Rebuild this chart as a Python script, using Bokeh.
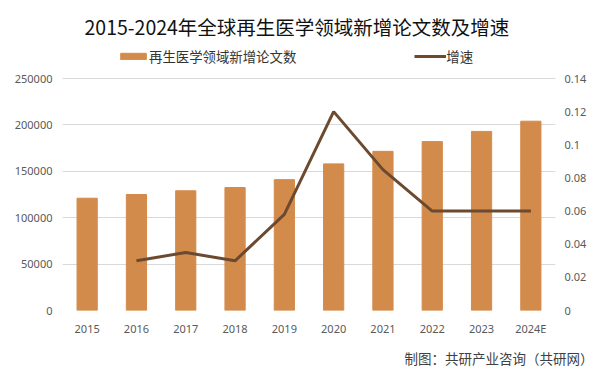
from bokeh.plotting import figure
from bokeh.models import (Range1d, LinearAxis, FixedTicker, NumeralTickFormatter,
                          BasicTickFormatter, Legend, LegendItem, Title,
                          ColumnDataSource)
from bokeh.embed import file_html
from bokeh.resources import INLINE

years = ["2015", "2016", "2017", "2018", "2019", "2020", "2021", "2022", "2023", "2024E"]
papers = [121000, 125000, 129000, 132500, 141000, 158000, 171500, 182000, 193000, 204000]
growth_years = ["2016", "2017", "2018", "2019", "2020", "2021", "2022", "2023", "2024E"]
growth = [0.030, 0.035, 0.030, 0.058, 0.120, 0.085, 0.060, 0.060, 0.060]
left_ticks = [0, 50000, 100000, 150000, 200000, 250000]
right_ticks = [0, 0.02, 0.04, 0.06, 0.08, 0.10, 0.12, 0.14]
title_text = "2015-2024年全球再生医学领域新增论文数及增速"
bar_label = "再生医学领域新增论文数"
line_label = "增速"
source_text = "制图：共研产业咨询（共研网）"

CJK = "Noto Sans CJK SC"
BAR = "#d38b4c"
LINE = "#6b4a2f"
TXT = "#595959"

# frame runs from canvas y=42 to y=310; 250000 sits at y=78 as in the reference
FRAME_H = 268.0
AXIS_H = 232.0
left_top = 250000 * FRAME_H / AXIS_H
right_top = 0.14 * FRAME_H / AXIS_H

p = figure(width=602, height=375, x_range=years, y_range=Range1d(0, left_top),
           output_backend="svg", toolbar_location=None,
           min_border_left=62, min_border_right=47, min_border_top=42, min_border_bottom=65)
p.outline_line_color = None
p.background_fill_color = "white"
p.border_fill_color = "white"
p.extra_y_ranges = {"g": Range1d(0, right_top)}

src_b = ColumnDataSource(dict(x=years, y=papers))
src_l = ColumnDataSource(dict(x=growth_years, y=growth))
bars = p.vbar(x="x", top="y", width=0.41, source=src_b, color=BAR)
line = p.line(x="x", y="y", source=src_l, y_range_name="g", line_color=LINE, line_width=3)

# axes
p.yaxis.ticker = FixedTicker(ticks=left_ticks)
p.yaxis.formatter = BasicTickFormatter(use_scientific=False)
for ax in [p.xaxis[0], p.yaxis[0]]:
    ax.axis_line_color = None
    ax.major_tick_line_color = None
    ax.minor_tick_line_color = None
    ax.major_tick_out = 0
    ax.major_tick_in = 0
    ax.major_label_text_font = "Noto Sans"
    ax.major_label_text_font_size = "11px"
    ax.major_label_text_color = TXT
p.yaxis.major_label_standoff = 10
p.xaxis.major_label_standoff = 10

ra = LinearAxis(y_range_name="g", ticker=FixedTicker(ticks=right_ticks),
                formatter=NumeralTickFormatter(format="0.[00]"))
ra.axis_line_color = None
ra.major_tick_line_color = None
ra.minor_tick_line_color = None
ra.major_tick_out = 0
ra.major_tick_in = 0
ra.major_label_text_font = "Noto Sans"
ra.major_label_text_font_size = "11px"
ra.major_label_text_color = TXT
ra.major_label_standoff = 9
p.add_layout(ra, "right")

p.xgrid.grid_line_color = None
p.ygrid.grid_line_color = "#d9d9d9"
p.ygrid.ticker = FixedTicker(ticks=left_ticks)

# title
p.title.text = title_text
p.title.align = "left"
p.title.offset = 22
p.title.text_font = CJK
p.title.text_font_size = "19.5px"
p.title.text_font_style = "normal"
p.title.text_color = "#111111"
p.title.standoff = 3

# legend (inside the frame, above the 250000 line)
legend = Legend(items=[LegendItem(label=bar_label, renderers=[bars]),
                       LegendItem(label=line_label, renderers=[line])],
                location=(55, 244), orientation="horizontal", spacing=118,
                padding=0, margin=0, label_standoff=0, glyph_width=32, glyph_height=8,
                label_height=16, label_text_font=CJK, label_text_font_size="13.4px",
                label_text_color="#333333", background_fill_alpha=0, border_line_color=None)
p.add_layout(legend, "center")

# source
src_title = Title(text=source_text, align="right", text_font=CJK, text_font_size="13.5px",
                  text_font_style="normal", text_color="#404040", standoff=14, offset=-38)
p.add_layout(src_title, "below")

open("out.html", "w").write(file_html(p, INLINE))
